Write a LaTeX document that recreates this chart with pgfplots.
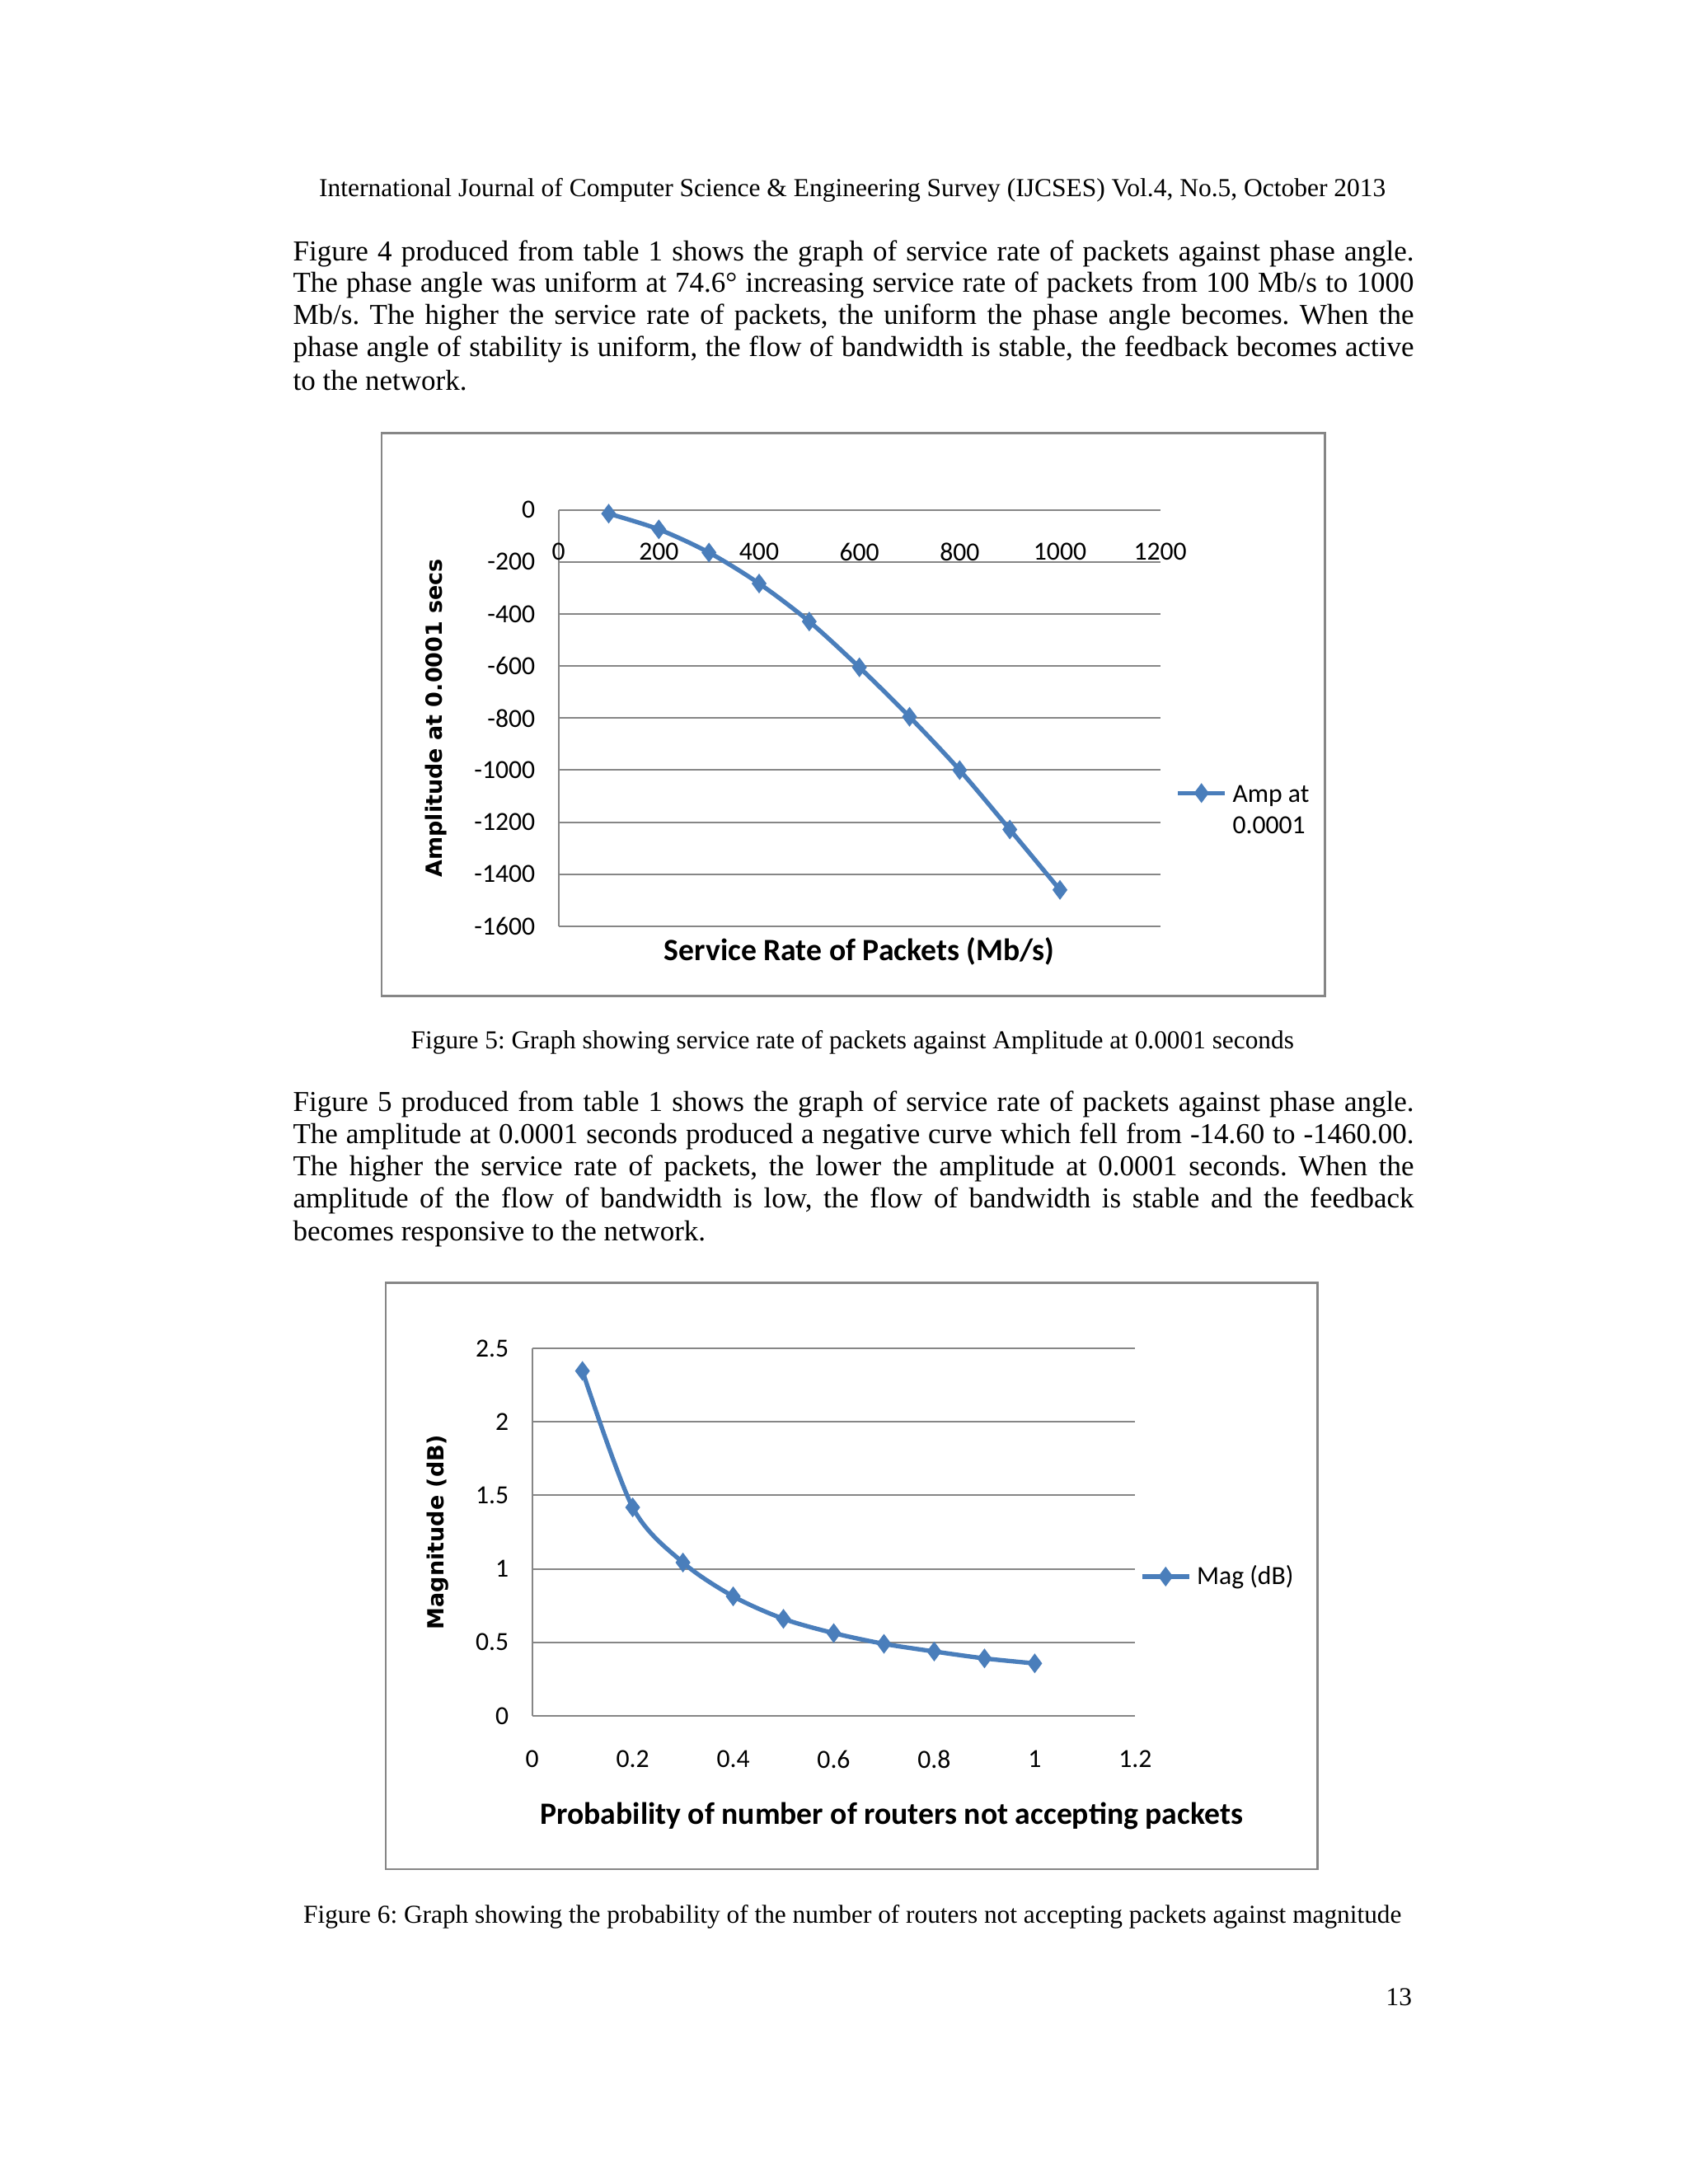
\documentclass[border=0pt]{standalone}
\usepackage{pgfplots}
\pgfplotsset{compat=1.18}
\usepackage{fontspec}
\setmainfont{Liberation Serif}
\newfontfamily\calfont{Carlito}
\newfontfamily\verdfont{DejaVu Sans}
\definecolor{serie}{RGB}{74,126,187}
\definecolor{gridc}{RGB}{134,134,134}
\frenchspacing
\pgfplotsset{
  excelstyle/.style={
    scale only axis,
    axis line style={gridc, line width=0.6pt, -},
    ymajorgrids, grid style={gridc, line width=0.6pt},
    major tick length=0pt,
    tick label style={font=\calfont\fontsize{9.5}{11}\selectfont},
    /pgf/number format/assume math mode=true,
    /pgf/number format/1000 sep={},
    legend cell align=left,
    clip=false,
  },
  excelplot/.style={color=serie, line width=1.6pt, smooth, tension=0.5,
      mark=diamond*, mark size=3.2pt, mark options={solid, fill=serie, draw=serie, line width=0.5pt}},
}
\begin{document}
\begin{tikzpicture}
\fill[white] (0,0) rectangle (614.4pt,795pt);
\begin{scope}[x=0.507pt,y=-0.507pt,yshift=795pt]
\node[anchor=base] at (612,141) {\fontsize{9.45}{11}\selectfont International Journal of Computer Science \& Engineering Survey (IJCSES) Vol.4, No.5, October 2013};
\begin{scope}[every node/.style={anchor=base west, inner sep=0pt, font=\fontsize{10.5}{11.9}\selectfont}]
\node at (210,187) {\makebox[408pt][s]{Figure 4 produced from table 1 shows the graph of service rate of packets against phase angle.}};
\node at (210,210) {\makebox[408pt][s]{The phase angle was uniform at 74.6° increasing service rate of packets from 100 Mb/s to 1000}};
\node at (210,233) {\makebox[408pt][s]{Mb/s. The higher the service rate of packets, the uniform the phase angle becomes. When the}};
\node at (210,256) {\makebox[408pt][s]{phase angle of stability is uniform, the flow of bandwidth is stable, the feedback becomes active}};
\node at (210,280) {to the network.};
\node at (210,798) {\makebox[408pt][s]{Figure 5 produced from table 1 shows the graph of service rate of packets against phase angle.}};
\node at (210,821) {\makebox[408pt][s]{The amplitude at 0.0001 seconds produced a negative curve which fell from -14.60 to -1460.00.}};
\node at (210,844) {\makebox[408pt][s]{The higher the service rate of packets, the lower the amplitude at 0.0001 seconds. When the}};
\node at (210,867) {\makebox[408pt][s]{amplitude of the flow of bandwidth is low, the flow of bandwidth is stable and the feedback}};
\node at (210,891) {becomes responsive to the network.};
\end{scope}
\node[anchor=base] at (612,753) {\fontsize{9.4}{11}\selectfont Figure 5: Graph showing service rate of packets against Amplitude at 0.0001 seconds};
\node[anchor=base] at (612,1381) {\fontsize{9.4}{11}\selectfont Figure 6: Graph showing the probability of the number of routers not accepting packets against magnitude};
\node[anchor=base east, inner sep=0pt] at (1014,1440) {\fontsize{9.4}{11}\selectfont 13};
\draw[gridc, line width=0.8pt] (274,311) rectangle (951,715);
\draw[gridc, line width=0.8pt] (277,921) rectangle (946,1342);
\end{scope}

% Chart 1
\begin{axis}[excelstyle,
  at={(203.3pt,457.8pt)}, anchor=south west,
  width=219pt, height=151.6pt,
  xmin=0, xmax=1200, ymin=-1600, ymax=0,
  xtick={0,200,...,1200}, ytick={-1600,-1400,...,0},
  axis x line*=top, axis y line*=left,
  xticklabel style={anchor=north, yshift=-8.5pt},
  yticklabel style={xshift=-5pt},
  xlabel={Service Rate of Packets (Mb/s)},
  xlabel style={font=\calfont\bfseries\fontsize{11.3}{13}\selectfont, at={(axis description cs:0.5,-0.06)}, anchor=center},
  ylabel={Amplitude at 0.0001 secs},
  ylabel style={font=\verdfont\bfseries\fontsize{8.1}{10}\selectfont, at={(axis description cs:-0.204,0.5)}, anchor=center},
  legend style={at={(axis description cs:1.025,0.32)}, anchor=west, draw=none, fill=none, inner sep=0pt,
    font=\calfont\fontsize{9.5}{11.4}\selectfont},
]
\addplot[excelplot] coordinates {(100,-14.6) (200,-75) (300,-164) (400,-283) (500,-429) (600,-605) (700,-795) (800,-1000) (900,-1228) (1000,-1460)};
\addlegendentry{\begin{tabular}[t]{@{}l@{}}Amp at\\0.0001\end{tabular}}
\end{axis}

% Chart 2
\begin{axis}[excelstyle,
  at={(193.7pt,170.4pt)}, anchor=south west,
  width=219.5pt, height=133.8pt,
  xmin=0, xmax=1.2, ymin=0, ymax=2.5,
  xtick={0,0.2,...,1.2}, ytick={0,0.5,...,2.5},
  axis x line*=bottom, axis y line*=left,
  xticklabel style={yshift=-9pt},
  yticklabel style={xshift=-5pt},
  xlabel={Probability of number of routers not accepting packets},
  xlabel style={font=\calfont\bfseries\fontsize{11.3}{13}\selectfont, at={(axis description cs:0.596,-0.273)}, anchor=center},
  ylabel={Magnitude (dB)},
  ylabel style={font=\verdfont\bfseries\fontsize{8.1}{10}\selectfont, at={(axis description cs:-0.157,0.5)}, anchor=center},
  legend style={at={(axis description cs:1.007,0.379)}, anchor=west, draw=none, fill=none, inner sep=0pt,
    font=\calfont\fontsize{9.5}{11.4}\selectfont},
]
\addplot[excelplot] coordinates {(0.1,2.346) (0.2,1.418) (0.3,1.043) (0.4,0.813) (0.5,0.660) (0.6,0.563) (0.7,0.490) (0.8,0.438) (0.9,0.391) (1.0,0.357)};
\addlegendentry{Mag (dB)}
\end{axis}
\end{tikzpicture}
\end{document}
